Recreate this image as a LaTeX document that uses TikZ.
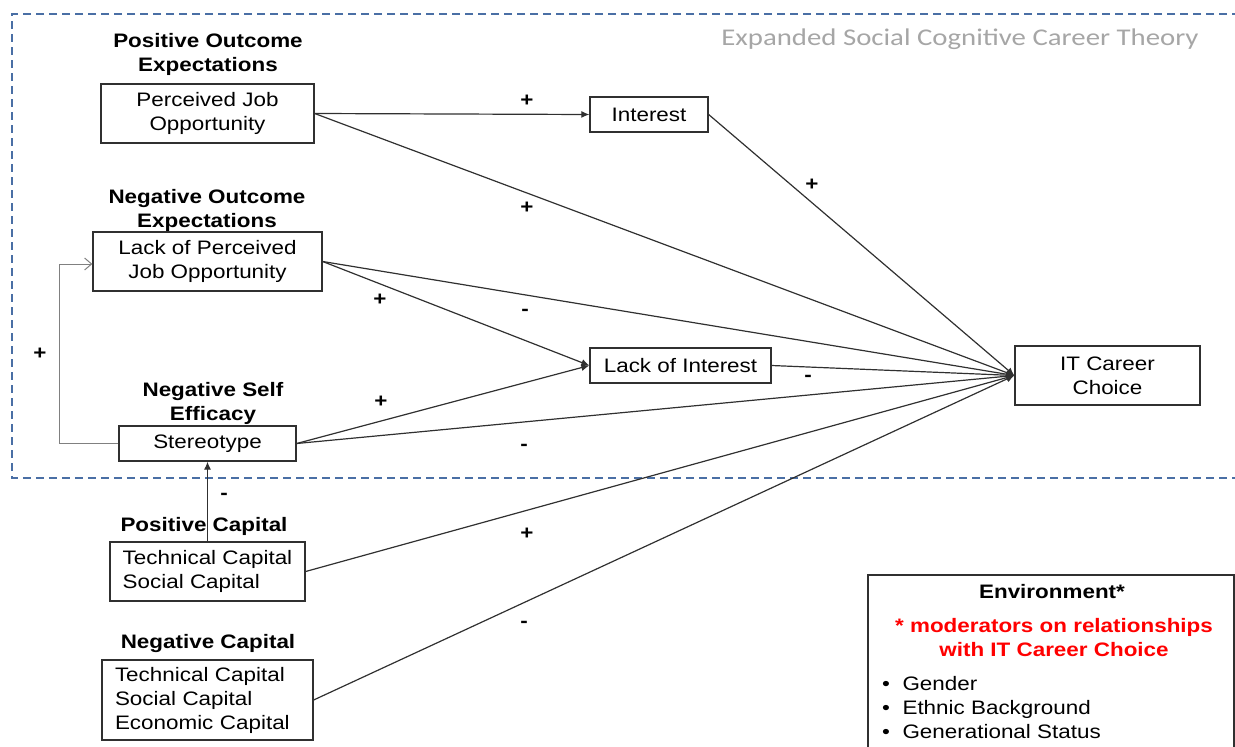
\documentclass[tikz,border=0pt]{standalone}
\usepackage{fontspec}
\setmainfont{Liberation Sans}[FakeStretch=1.15]
\newfontfamily\titlefont{Carlito}[FakeStretch=1.2]
\usetikzlibrary{arrows.meta}
\definecolor{frameblue}{HTML}{4A6FA5}
\definecolor{titlegray}{HTML}{A6A6A6}
\definecolor{modred}{HTML}{FF0000}
\definecolor{linegray}{HTML}{303030}
\tikzset{
  txt/.style={font=\fontsize{19.5}{24}\selectfont},
  hdr/.style={font=\fontsize{19.5}{24}\selectfont\bfseries, align=center, inner sep=0},
  box/.style={draw=linegray, line width=1.3pt, txt, align=center, inner sep=0},
  conn/.style={draw=linegray, line width=1.2pt},
  arr/.style={conn, -{Latex[length=8pt,width=7pt]}},
  fb/.style={draw=gray, line width=1pt, -{Straight Barb[length=7pt,width=12pt]}},
  sign/.style={font=\fontsize{19.5}{24}\selectfont\bfseries, inner sep=0},
  frame/.style={draw=frameblue, line width=1.1pt, dash pattern=on 8pt off 5pt},
}
\begin{document}
\begin{tikzpicture}[x=1pt,y=-1pt]
\useasboundingbox (0,0) rectangle (1235,747);

% dashed frame
\draw[frame] (1240,14) -- (12,14) -- (12,478) -- (1240,478);
\node[font=\titlefont\fontsize{24}{28}\selectfont, text=titlegray, inner sep=0] (title) at (960,39) {Expanded Social Cognitive Career Theory};

% headers
\node[hdr] (h1) at (208,54) {Positive Outcome\\Expectations};
\node[hdr] (h2) at (207,210) {Negative Outcome\\Expectations};
\node[hdr] (h3) at (213,403) {Negative Self\\Efficacy};
\node[hdr] (h4) at (204,526) {Positive Capital};
\node[hdr] (h5) at (208,643) {Negative Capital};

% boxes
\node[box, minimum width=213pt, minimum height=59pt] (pjo) at (207.5,113.5) {Perceived Job\\Opportunity};
\node[box, minimum width=118pt, minimum height=35pt] (int) at (649,114.5) {Interest};
\node[box, minimum width=229pt, minimum height=59pt] (lpjo) at (207.5,261.5) {Lack of Perceived\\Job Opportunity};
\node[box, minimum width=177pt, minimum height=35pt] (stereo) at (207.5,443.5) {Stereotype};
\node[box, minimum width=181pt, minimum height=35pt] (loi) at (680.5,365.5) {Lack of Interest};
\node[box, minimum width=185pt, minimum height=59pt] (itcc) at (1107.5,375.5) {IT Career\\Choice};
\node[box, minimum width=195pt, minimum height=59pt, align=left] (pcap) at (207.5,571.5) {Technical Capital\\Social Capital};
\node[box, minimum height=80pt, align=left, inner xsep=13pt, text width=185pt] (ncap) at (207.5,700) {Technical Capital\\Social Capital\\Economic Capital};

% environment box
\draw[draw=linegray, line width=1.3pt] (868,760) -- (868,575) -- (1234,575) -- (1234,760);
\node[hdr] (envh) at (1052,592) {Environment*};
\node[hdr, text=modred] (envr) at (1054,638) {* moderators on relationships\\with IT Career Choice};
\node[txt, anchor=base west, inner sep=0] (e1) at (882,690) {\textbullet\hspace{12.5pt}Gender};
\node[txt, anchor=base west, inner sep=0] (e2) at (882,714) {\textbullet\hspace{12.5pt}Ethnic Background};
\node[txt, anchor=base west, inner sep=0] (e3) at (882,738) {\textbullet\hspace{12.5pt}Generational Status};

% connectors
\draw[arr] (pjo.east) -- (int.west);
\draw[arr] (pjo.east) -- (itcc.west);
\draw[arr] (int.east) -- (itcc.west);
\draw[arr] (lpjo.east) -- (itcc.west);
\draw[arr] (lpjo.east) -- (loi.west);
\draw[arr] (stereo.east) -- (loi.west);
\draw[arr] (stereo.east) -- (itcc.west);
\draw[arr] (loi.east) -- (itcc.west);
\draw[arr] (pcap.east) -- (itcc.west);
\draw[arr] (ncap.east) -- (itcc.west);
\draw[arr] (pcap.north) -- (stereo.south);
\draw[fb] (stereo.west) -- ++(-59,0) |- ([yshift=-2.5pt]lpjo.west);

% signs
\node[sign] (s1) at (527,101) {+};
\node[sign] (s2) at (527,208) {+};
\node[sign] (s3) at (812,185) {+};
\node[sign] (s4) at (380,300) {+};
\node[sign] (s5) at (525,312) {-};
\node[sign] (s6) at (40,354) {+};
\node[sign] (s7) at (381,402) {+};
\node[sign] (s8) at (808,378) {-};
\node[sign] (s9) at (524,447) {-};
\node[sign] (s10) at (224,496) {-};
\node[sign] (s11) at (527,534) {+};
\node[sign] (s12) at (524,624) {-};
\end{tikzpicture}
\end{document}
